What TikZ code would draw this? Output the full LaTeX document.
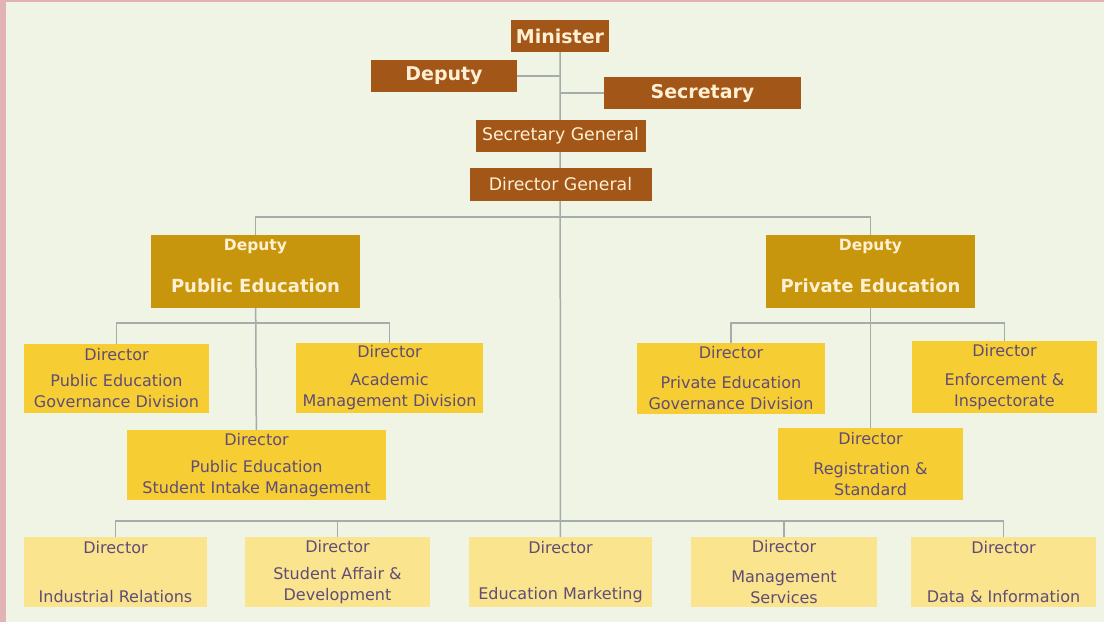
\documentclass[tikz,border=0pt]{standalone}
\usepackage{fontspec}
\setmainfont{DejaVu Sans}
\usepackage{tikz}
\usetikzlibrary{positioning, calc, backgrounds}

\definecolor{pagebg}{RGB}{239,244,229}
\definecolor{edgepink}{RGB}{226,178,182}
\definecolor{brownbox}{RGB}{162,86,24}
\definecolor{goldbox}{RGB}{199,150,12}
\definecolor{yellowbox}{RGB}{246,206,52}
\definecolor{paleyellow}{RGB}{250,228,142}
\definecolor{creamtext}{RGB}{255,240,212}
\definecolor{purptext}{RGB}{96,76,118}
\definecolor{linegray}{RGB}{165,172,172}

\tikzset{
  wh/.style 2 args={minimum width=#1pt, minimum height=#2pt},
  topbox/.style={fill=brownbox, text=creamtext, inner sep=0pt,
                 font=\bfseries\fontsize{19}{23}\selectfont},
  genbox/.style={fill=brownbox, text=creamtext, inner sep=0pt,
                 font=\fontsize{17.3}{20}\selectfont},
  depbox/.style={fill=goldbox, text=creamtext, inner sep=0pt, align=center,
                 text depth=12pt, font=\bfseries},
  dirbox/.style={fill=yellowbox, text=purptext, inner sep=0pt, align=center,
                 font=\fontsize{16}{21}\selectfont},
  lowbox/.style={dirbox, fill=paleyellow},
  link/.style={draw=linegray, line width=1.5pt}
}

\begin{document}
\begin{tikzpicture}[x=1pt, y=-1pt]
    \useasboundingbox (0,0) rectangle (1104,622);
    % top level
    \node[topbox, wh={98}{32}]  (minister)  at (560,36)    {Minister};
    \node[topbox, wh={146}{32}] (deputy)    at (444,76)    {Deputy};
    \node[topbox, wh={197}{32}] (secretary) at (702.5,93)  {Secretary};
    \node[genbox, wh={170}{32}] (secgen)    at (560.5,136) {Secretary General};
    \node[genbox, wh={182}{33}] (dirgen)    at (560.5,184.5) {Director General};
    % deputies
    \node[depbox, wh={209}{73}] (deppub)  at (255.5,271.5)
      {{\fontsize{15.5}{18}\selectfont Deputy}\\[24pt]{\fontsize{18}{20}\selectfont Public Education}};
    \node[depbox, wh={209}{73}] (deppriv) at (870.5,271.5)
      {{\fontsize{15.5}{18}\selectfont Deputy}\\[24pt]{\fontsize{18}{20}\selectfont Private Education}};
    % public side
    \node[dirbox, wh={185}{69}] (pubgov) at (116.5,378.5)
      {Director\\[5pt]Public Education\\Governance Division};
    \node[dirbox, wh={187}{70}] (acad) at (389.5,378)
      {Director\\[7pt]Academic\\Management Division};
    \node[dirbox, wh={259}{70}] (intake) at (256.5,465)
      {Director\\[6pt]Public Education\\Student Intake Management};
    % private side
    \node[dirbox, wh={188}{71}] (privgov) at (731,378.5)
      {Director\\[9pt]Private Education\\Governance Division};
    \node[dirbox, wh={185}{72}] (enforce) at (1004.5,377)
      {Director\\[8pt]Enforcement \&\\Inspectorate};
    \node[dirbox, wh={185}{72}] (regstd) at (870.5,464)
      {Director\\[9pt]Registration \&\\Standard};
    % bottom row
    \node[lowbox, wh={183}{70}] (indrel) at (115.5,572)
      {Director\\[28pt]Industrial Relations};
    \node[lowbox, wh={185}{70}] (stuaff) at (337.5,572)
      {Director\\[6pt]Student Affair \&\\Development};
    \node[lowbox, wh={183}{70}] (edumkt) at (560.5,572)
      {Director\\[25pt]Education Marketing};
    \node[lowbox, wh={186}{70}] (mgmtsvc) at (784,572)
      {Director\\[9pt]Management\\Services};
    \node[lowbox, wh={185}{70}] (datainf) at (1003.5,572)
      {Director\\[28pt]Data \& Information};

    \coordinate (busdep) at (560,217);
    \coordinate (buspub) at (256,323);
    \coordinate (buspriv) at (870,323);
    \coordinate (buslow) at (560,521);

    \begin{scope}[on background layer]
      \fill[pagebg] (0,0) rectangle (1104,622);
      \fill[edgepink] (0,0) rectangle (1104,2);
      \fill[edgepink] (0,0) rectangle (6,622);
      % trunk and side links
      \draw[link] (minister) -- (edumkt);
      \draw[link] (deputy.east) -- (deputy.east -| minister);
      \draw[link] (secretary.west) -- (secretary.west -| minister);
      % deputies
      \draw[link] (deppub.north) |- (busdep) -| (deppriv.north);
      \draw[link] (deppub) -- (intake);
      \draw[link] (pubgov.north) |- (buspub) -| (acad.north);
      \draw[link] (deppriv) -- (regstd);
      \draw[link] (privgov.north) |- (buspriv) -| (enforce.north);
      % bottom row
      \draw[link] (indrel.north) |- (buslow) -| (datainf.north);
      \draw[link] (stuaff.north) -- (stuaff.north |- buslow);
      \draw[link] (mgmtsvc.north) -- (mgmtsvc.north |- buslow);
    \end{scope}
\end{tikzpicture}
\end{document}
